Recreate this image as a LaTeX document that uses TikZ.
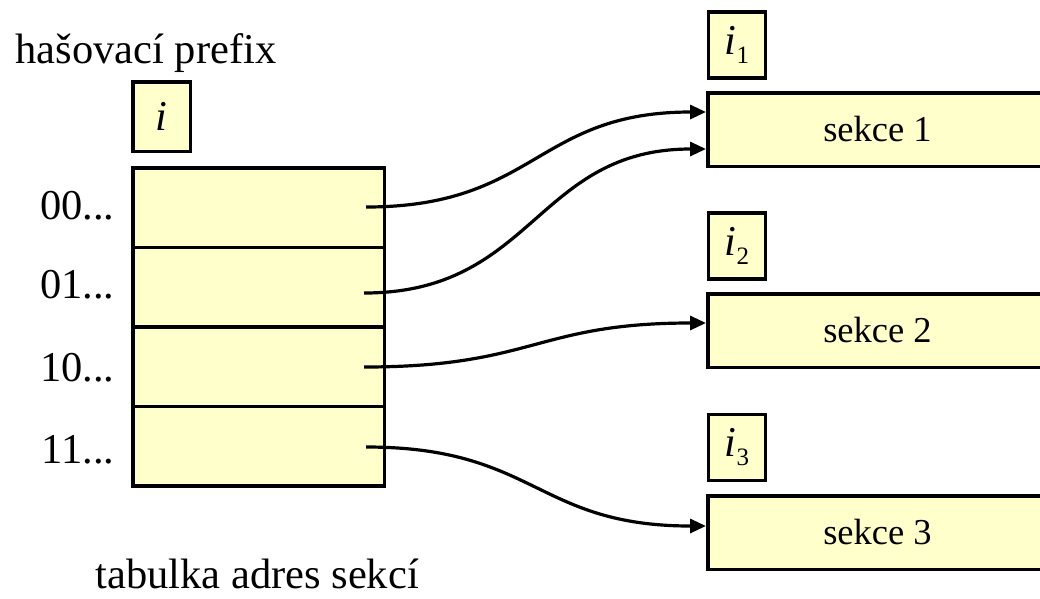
\documentclass[tikz,border=0pt]{standalone}
\usepackage{fontspec}
\setmainfont{Liberation Serif}
\usetikzlibrary{arrows.meta}
\definecolor{cellfill}{HTML}{FFFFCC}
\newcommand\lsub[1]{\raisebox{-9pt}{\fontsize{25}{25}\selectfont #1}}
\tikzset{
  box/.style={draw=black, line width=3.5pt, fill=cellfill, inner sep=0pt},
  bigtext/.style={font=\fontsize{42.5}{50}\selectfont},
  sectext/.style={font=\fontsize{36.5}{44}\selectfont},
  rowcell/.style={box, minimum width=251.5pt, minimum height=79.6pt},
  depthbox/.style={box, bigtext, minimum width=57pt, minimum height=66pt},
  section/.style={box, sectext, minimum width=339.5pt, minimum height=73.5pt},
  link/.style={line width=3.2pt, -{Triangle[length=16pt,width=14pt]},
               out=0, in=180, distance=170pt}
}
\begin{document}
\begin{tikzpicture}[x=1pt, y=-1pt]
\useasboundingbox (0,0) rectangle (1040,598);
\clip (0,0) rectangle (1040,598);

% global depth and the address table
\node[bigtext, anchor=base west] (hp) at (12,63) {hašovací prefix};
\node[box, bigtext, minimum width=57.5pt, minimum height=69.5pt] (gi) at (161.5,116.5) {\textit{i}};

\node[rowcell] (r0) at (258.5,207.6) {};
\node[rowcell] (r1) at (258.5,287.2) {};
\node[rowcell] (r2) at (258.5,366.8) {};
\node[rowcell] (r3) at (258.5,446.4) {};

\node[bigtext, anchor=base east] (l0) at (118,219) {00...};
\node[bigtext, anchor=base east] (l1) at (118,298) {01...};
\node[bigtext, anchor=base east] (l2) at (118,381) {10...};
\node[bigtext, anchor=base east] (l3) at (118,463) {11...};

\node[bigtext, anchor=base west, inner ysep=0pt] (tab) at (92,588) {tabulka adres sekcí};

% sections with their local depths
\node[depthbox] (d1) at (737,45) {\textit{i}\lsub{1}};
\node[depthbox] (d2) at (737,246) {\textit{i}\lsub{2}};
\node[depthbox] (d3) at (737,447.5) {\textit{i}\lsub{3}};

\node[section] (s1) at (877.5,129.5) {sekce 1};
\node[section] (s2) at (877.5,330.5) {sekce 2};
\node[section] (s3) at (877.5,532.5) {sekce 3};

% pointers from the table rows
\coordinate (a0) at (366,207);
\coordinate (a1) at (364,293);
\coordinate (a2) at (364,367);
\coordinate (a3) at (366,447);

\draw[link] (a0) to ([yshift=17.5pt]s1.west);
\draw[link] (a1) to ([yshift=-19.5pt]s1.west);
\draw[link] (a2) to ([yshift=7.5pt]s2.west);
\draw[link] (a3) to ([yshift=6.5pt]s3.west);
\end{tikzpicture}
\end{document}
